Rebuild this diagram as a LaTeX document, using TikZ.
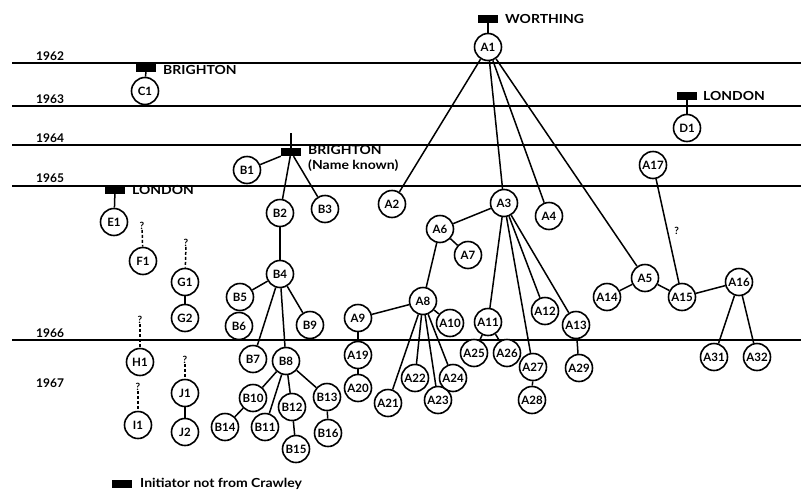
\documentclass[tikz,border=0pt]{standalone}
\usepackage{fontspec}
\setmainfont{Lato}
\newfontfamily\widefont[FakeStretch=1.12]{Lato}
\begin{document}
\begin{tikzpicture}[x=1pt,y=-1pt,
  yearline/.style={line width=1.9pt},
  person/.style={circle,draw,line width=1.6pt,fill=white,minimum size=27pt,inner sep=0pt,font=\fontsize{11.5}{11.5}\selectfont\bfseries},
  initiator/.style={rectangle,fill=black,minimum width=20pt,minimum height=8pt,inner sep=0pt},
  link/.style={line width=1.5pt},
  unknown/.style={line width=1.5pt,densely dashed},
  place/.style={anchor=west,inner sep=0pt,font=\widefont\fontsize{12.5}{14}\selectfont\bfseries},
  year/.style={anchor=west,inner sep=0pt,font=\fontsize{12}{12}\selectfont\bfseries},
  qmark/.style={inner sep=0pt,font=\fontsize{10}{10}\selectfont\bfseries}]
\useasboundingbox (0,0) rectangle (801,493);

% year lines
\foreach \yy in {63,106,145,186,340} \draw[yearline] (12,\yy) -- (801,\yy);
\node[year] (y62) at (36,56) {1962};
\node[year] (y63) at (36,99) {1963};
\node[year] (y64) at (36,138) {1964};
\node[year] (y65) at (36,178) {1965};
\node[year] (y66) at (36,333) {1966};
\node[year] (y67) at (36,383) {1967};

% initiators and places
\node[initiator] (mA) at (488,19) {};
\node[place] (tA) at (505,19) {WORTHING};
\node[initiator] (mC) at (146,68) {};
\node[place] (tC) at (163,70) {BRIGHTON};
\node[initiator] (mD) at (687,96) {};
\node[place] (tD) at (703,96) {LONDON};
\node[initiator] (mE) at (115,190) {};
\node[place] (tE) at (132,190) {LONDON};
\node[initiator] (mB) at (291,152) {};
\node[place] (tB) at (308,150) {BRIGHTON};
\node[place] (tB2) at (308,166) {(Name known)};
\coordinate (tickB) at (291,133);

% persons
\node[person] (A1) at (488,47) {A1};
\node[person] (C1) at (145,91) {C1};
\node[person] (D1) at (687,128) {D1};
\node[person] (E1) at (114,222) {E1};
\node[person] (F1) at (143,261) {F1};
\node[person] (G1) at (185,282) {G1};
\node[person] (G2) at (185,318) {G2};
\node[person] (H1) at (140,362) {H1};
\node[person] (I1) at (138,425) {I1};
\node[person] (J1) at (185,393) {J1};
\node[person] (J2) at (185,432) {J2};

\node[person] (B1) at (247,170) {B1};
\node[person] (B2) at (280,213) {B2};
\node[person] (B3) at (325,209) {B3};
\node[person] (B4) at (280,274) {B4};
\node[person] (B5) at (240,297) {B5};
\node[person] (B6) at (239,326) {B6};
\node[person] (B7) at (253,359) {B7};
\node[person] (B8) at (286,361) {B8};
\node[person] (B9) at (310,325) {B9};
\node[person] (B10) at (253,398) {B10};
\node[person] (B11) at (265,427) {B11};
\node[person] (B12) at (292,407) {B12};
\node[person] (B13) at (327,397) {B13};
\node[person] (B14) at (225,427) {B14};
\node[person] (B15) at (296,449) {B15};
\node[person] (B16) at (328,433) {B16};

\node[person] (A2) at (392,204) {A2};
\node[person] (A3) at (504,203) {A3};
\node[person] (A4) at (549,216) {A4};
\node[person] (A5) at (645,278) {A5};
\node[person] (A6) at (440,229) {A6};
\node[person] (A7) at (468,255) {A7};
\node[person] (A8) at (423,301) {A8};
\node[person] (A9) at (358,318) {A9};
\node[person] (A10) at (450,323) {A10};
\node[person] (A11) at (488,322) {A11};
\node[person] (A12) at (545,311) {A12};
\node[person] (A13) at (576,325) {A13};
\node[person] (A14) at (607,297) {A14};
\node[person] (A15) at (682,297) {A15};
\node[person] (A16) at (739,282) {A16};
\node[person] (A17) at (653,165) {A17};
\node[person] (A19) at (358,355) {A19};
\node[person] (A20) at (358,388) {A20};
\node[person] (A21) at (388,403) {A21};
\node[person] (A22) at (415,378) {A22};
\node[person] (A23) at (438,400) {A23};
\node[person] (A24) at (453,378) {A24};
\node[person] (A25) at (474,353) {A25};
\node[person] (A26) at (507,353) {A26};
\node[person] (A27) at (533,367) {A27};
\node[person] (A28) at (532,400) {A28};
\node[person] (A29) at (579,368) {A29};
\node[person] (A31) at (714,357) {A31};
\node[person] (A32) at (757,357) {A32};

% unknown origins
\node[qmark] (qF) at (142,226) {?};
\node[qmark] (qG) at (186,243) {?};
\node[qmark] (qH) at (140,320) {?};
\node[qmark] (qI) at (138,387) {?};
\node[qmark] (qJ) at (185,360) {?};

% connectors
\draw[link] (mA) -- (A1);
\draw[link] (mC) -- (C1);
\draw[link] (mD) -- (D1);
\draw[link] (mE) -- (E1);
\draw[link] (tickB) -- (mB);
\draw[link] (mB) -- (B1);
\draw[link] (mB) -- (B2);
\draw[link] (mB) -- (B3);
\draw[link] (B2) -- (B4);
\draw[link] (B4) -- (B5);
\draw[link] (B4) -- (B7);
\draw[link] (B4) -- (B8);
\draw[link] (B4) -- (B9);
\draw[link] (B8) -- (B10);
\draw[link] (B8) -- (B11);
\draw[link] (B8) -- (B12);
\draw[link] (B8) -- (B13);
\draw[link] (B10) -- (B14);
\draw[link] (B12) -- (B15);
\draw[link] (B13) -- (B16);

\draw[link] (A1) -- (A2);
\draw[link] (A1) -- (A3);
\draw[link] (A1) -- (A4);
\draw[link] (A1) -- (A5);
\draw[link] (A3) -- (A6);
\draw[link] (A3) -- (A11);
\draw[link] (A3) -- (A27);
\draw[link] (A3) -- (A12);
\draw[link] (A3) -- (A13);
\draw[link] (A6) -- (A7);
\draw[link] (A6) -- (A8);
\draw[link] (A8) -- (A9);
\draw[link] (A8) -- (A10);
\draw[link] (A8) -- (A21);
\draw[link] (A8) -- (A22);
\draw[link] (A8) -- (A23);
\draw[link] (A8) -- (A24);
\draw[link] (A9) -- (A19);
\draw[link] (A19) -- (A20);
\draw[link] (A11) -- (A25);
\draw[link] (A11) -- (A26);
\draw[link] (A27) -- (A28);
\draw[link] (A13) -- (A29);
\draw[link] (A5) -- (A14);
\draw[link] (A5) -- (A15);
\draw[link] (A17) -- node[pos=0.5,right=6pt,qmark] (qA) {?} (A15);
\draw[link] (A15) -- (A16);
\draw[link] (A16) -- (A31);
\draw[link] (A16) -- (A32);

\draw[unknown] (qF) -- (F1);
\draw[unknown] (qG) -- (G1);
\draw[link] (G1) -- (G2);
\draw[unknown] (qH) -- (H1);
\draw[unknown] (qI) -- (I1);
\draw[unknown] (qJ) -- (J1);
\draw[link] (J1) -- (J2);

% legend
\node[initiator] (legbox) at (122,484) {};
\node[place] (legtext) at (140,484) {Initiator not from Crawley};
\end{tikzpicture}
\end{document}
